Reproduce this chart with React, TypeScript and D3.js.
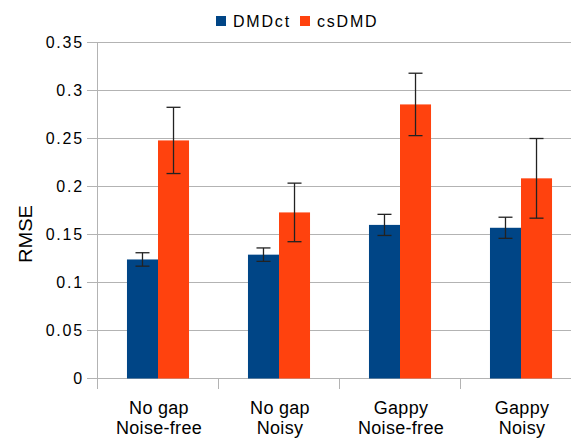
import React from 'react';
import { scaleBand, scaleLinear, range } from 'd3';

const categories = ['No gap|Noise-free', 'No gap|Noisy', 'Gappy|Noise-free', 'Gappy|Noisy'];
const seriesNames = ['DMDct', 'csDMD'];
const dmdctValues = [0.124, 0.129, 0.16, 0.157];
const dmdctErrors = [0.007, 0.007, 0.011, 0.011];
const csdmdValues = [0.248, 0.173, 0.2855, 0.2085];
const csdmdErrors = [0.0345, 0.0305, 0.0325, 0.0415];
const yTicks = [0, 0.05, 0.1, 0.15, 0.2, 0.25, 0.3, 0.35];

const colors = ['#004586', '#ff420e'];
const gridColor = '#b3b3b3';
const font = '"Liberation Sans", Arial, sans-serif';

const W = 571, H = 439;

export default function App() {
  const left = 97.5;
  // plot is wider than the window, the last band is clipped at the right edge
  const x = scaleBand().domain(categories).range([left, left + 4 * 121]);
  const inner = scaleBand().domain(seriesNames).range([0, x.bandwidth()]).paddingOuter(0.95);
  const y = scaleLinear().domain([0, 0.35]).range([378.5, 42.5]);

  const series = [
    { name: seriesNames[0], values: dmdctValues, errors: dmdctErrors, color: colors[0] },
    { name: seriesNames[1], values: csdmdValues, errors: csdmdErrors, color: colors[1] },
  ];

  const fmt = (d: number) => (d === 0 ? '0' : String(+d.toFixed(2)));

  return (
    <svg width={W} height={H} style={{ position: 'absolute', left: 0, top: 0, background: '#fff' }} fontFamily={font}>
      {/* grid + y ticks */}
      {yTicks.map(t => (
        <g key={t}>
          <line x1={87} x2={W} y1={y(t)} y2={y(t)} stroke={gridColor} strokeWidth={1} />
          <text x={84} y={y(t) + 5.8} textAnchor="end" fontSize={16} letterSpacing={1.8} fill="#000">{fmt(t)}</text>
        </g>
      ))}
      {/* y axis */}
      <line x1={left} x2={left} y1={42.5} y2={389} stroke={gridColor} strokeWidth={1} />
      {/* category boundaries */}
      {range(categories.length + 1).map(i => {
        const xx = left + i * x.step();
        return <line key={i} x1={xx} x2={xx} y1={378.5} y2={389} stroke={gridColor} strokeWidth={1} />;
      })}

      {/* bars */}
      {series.map(s => (
        <g key={s.name}>
          {categories.map((c, i) => (
            <rect key={c} x={(x(c) || 0) + (inner(s.name) || 0)} width={inner.bandwidth()}
              y={y(s.values[i])} height={y(0) - y(s.values[i])} fill={s.color} />
          ))}
        </g>
      ))}

      {/* error bars */}
      {series.map(s => (
        <g key={s.name + 'e'} stroke="#222" strokeWidth={1.3}>
          {categories.map((c, i) => {
            const cx = (x(c) || 0) + (inner(s.name) || 0) + inner.bandwidth() / 2;
            const hi = y(s.values[i] + s.errors[i]);
            const lo = y(s.values[i] - s.errors[i]);
            return (
              <g key={c}>
                <line x1={cx} x2={cx} y1={hi} y2={lo} />
                <line x1={cx - 7} x2={cx + 7} y1={hi} y2={hi} />
                <line x1={cx - 7} x2={cx + 7} y1={lo} y2={lo} />
              </g>
            );
          })}
        </g>
      ))}

      {/* x labels */}
      {categories.map(c => {
        const [l1, l2] = c.split('|');
        const cx = (x(c) || 0) + x.bandwidth() / 2 + 1;
        return (
          <text key={c} x={cx} textAnchor="middle" fontSize={18} letterSpacing={0.3} fill="#000">
            <tspan x={cx} y={414}>{l1}</tspan>
            <tspan x={cx} y={434}>{l2}</tspan>
          </text>
        );
      })}

      {/* y axis title */}
      <text transform="translate(32,234) rotate(-90)" textAnchor="middle" fontSize={19}
        textLength={58} lengthAdjust="spacingAndGlyphs" fill="#000">RMSE</text>

      {/* legend */}
      <g>
        <rect x={216} y={16} width={10} height={10} fill={colors[0]} />
        <text x={233} y={26.7} fontSize={16} letterSpacing={1.8} fill="#000">{seriesNames[0]}</text>
        <rect x={300} y={16} width={10} height={10} fill={colors[1]} />
        <text x={317} y={26.7} fontSize={16} letterSpacing={1.8} fill="#000">{seriesNames[1]}</text>
      </g>
    </svg>
  );
}
